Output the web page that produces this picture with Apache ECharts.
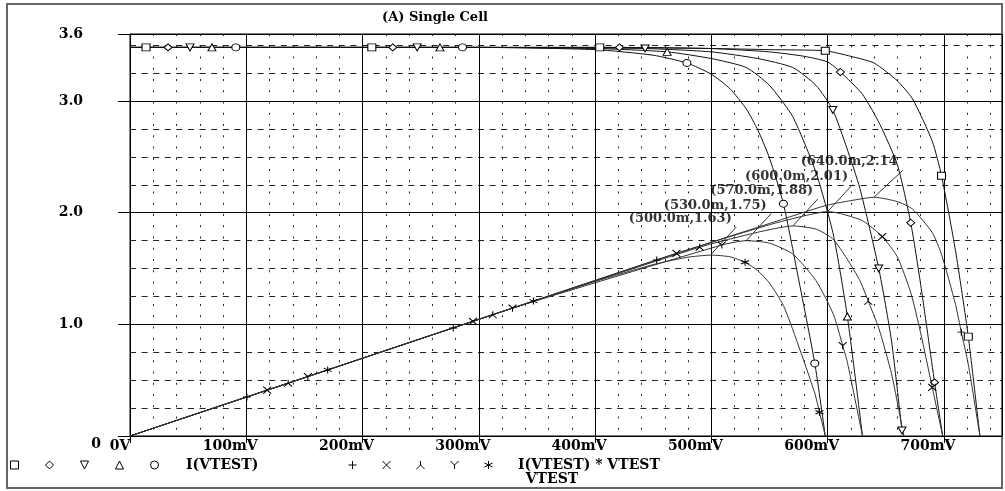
<!DOCTYPE html>
<html>
<head>
<meta charset="utf-8">
<script src="https://cdn.jsdelivr.net/npm/echarts@6/dist/echarts.min.js"></script>
<style>
  html, body { margin: 0; padding: 0; background: #fff; }
  #main { width: 1005px; height: 491px; }
</style>
</head>
<body>
<div id="main"></div>
<script>
var chart = echarts.init(document.getElementById('main'));

// I(VTEST) curves, voltages in mV, current in A
var vA = [0, 13.8, 100, 208, 300, 404, 500, 550, 598, 620, 640, 660, 673, 690, 698, 710, 721, 731];
var iA = [3.48, 3.48, 3.48, 3.48, 3.48, 3.48, 3.47, 3.46, 3.45, 3.40, 3.34, 3.18, 3.02, 2.64, 2.33, 1.66, 0.89, 0];
var vB = [0, 32.7, 100, 226, 300, 421, 500, 550, 580, 600, 611, 630, 645, 660, 671.5, 680, 692, 699];
var iB = [3.48, 3.48, 3.48, 3.48, 3.48, 3.48, 3.47, 3.44, 3.40, 3.35, 3.26, 3.06, 2.79, 2.43, 1.91, 1.36, 0.48, 0];
var vC = [0, 51.6, 100, 247, 300, 443, 500, 540, 570, 590, 604.5, 616.5, 627.7, 644, 655, 664, 665.5];
var iC = [3.48, 3.48, 3.48, 3.48, 3.48, 3.47, 3.44, 3.38, 3.30, 3.14, 2.92, 2.58, 2.22, 1.50, 0.85, 0.05, 0];
var vD = [0, 70.5, 100, 266.6, 300, 400, 462, 500, 530, 550, 570, 590, 605, 617, 630];
var iD = [3.48, 3.48, 3.48, 3.48, 3.48, 3.47, 3.44, 3.38, 3.30, 3.14, 2.86, 2.36, 1.80, 1.07, 0];
var vE = [0, 91, 100, 286, 300, 400, 450, 479, 500, 516, 530, 540, 550, 562, 574, 589, 598];
var iE = [3.48, 3.48, 3.48, 3.48, 3.48, 3.46, 3.41, 3.34, 3.24, 3.11, 2.93, 2.74, 2.49, 2.08, 1.46, 0.65, 0];

// I(VTEST) * VTEST curves
var pvA = [0, 100.6, 278, 453, 550, 598, 620, 640, 660, 673, 690, 698, 710, 715, 721, 731];
var ppA = [0, 0.350, 0.967, 1.576, 1.903, 2.063, 2.108, 2.138, 2.099, 2.032, 1.822, 1.626, 1.179, 0.930, 0.642, 0];
var pvB = [0, 118, 295, 470, 550, 580, 600, 611, 630, 647, 660, 671.5, 680, 690, 699];
var ppB = [0, 0.411, 1.027, 1.636, 1.892, 1.972, 2.010, 1.992, 1.928, 1.786, 1.604, 1.284, 0.925, 0.435, 0];
var pvC = [0, 136, 312, 490, 540, 570, 590, 604.5, 616.5, 627.7, 635, 644, 655, 665.5];
var ppC = [0, 0.473, 1.086, 1.691, 1.825, 1.881, 1.853, 1.765, 1.590, 1.393, 1.207, 0.966, 0.557, 0];
var pvD = [0, 153, 329, 509, 530, 550, 570, 590, 605, 613, 617, 630];
var ppD = [0, 0.532, 1.145, 1.710, 1.749, 1.727, 1.630, 1.392, 1.089, 0.809, 0.660, 0];
var pvE = [0, 170, 347, 400, 450, 479, 500, 516, 529, 540, 550, 562, 574, 589, 593, 598];
var ppE = [0, 0.592, 1.208, 1.384, 1.535, 1.600, 1.620, 1.605, 1.556, 1.480, 1.370, 1.169, 0.838, 0.383, 0.213, 0];

// where the trace markers sit (mV)
var markI = [
    [13.8, 208, 404, 598, 698, 721],
    [32.7, 226, 421, 611, 671.5, 692],
    [51.6, 247, 443, 604.5, 644, 664],
    [70.5, 266.6, 462, 617],
    [91, 286, 479, 562, 589]
];
var markP = [
    [100.6, 278, 453, 715],
    [118, 295, 470, 647, 690],
    [136, 312, 490, 635],
    [153, 329, 509, 613],
    [170, 347, 529, 593]
];

// peak labels
var peakV = [500, 530, 570, 600, 640];
var peakP = [1.63, 1.75, 1.88, 2.01, 2.14];
var peakText = ['(500.0m,1.63)', '(530.0m,1.75)', '(570.0m,1.88)', '(600.0m,2.01)', '(640.0m,2.14'];

var xTicks = [0, 100, 200, 300, 400, 500, 600, 700];

var FONT = 'DejaVu Serif';

var iSym = [
    'path://M0,0L10,0L10,10L0,10Z',
    'path://M5,0L10,5L5,10L0,5Z',
    'path://M0,0L10,0L5,10Z',
    'path://M5,0L10,10L0,10Z',
    'circle'
];
var pSym = [
    'path://M0,5L10,5M5,0L5,10',
    'path://M0,0L10,10M10,0L0,10',
    'path://M5,0L5,5M5,5L0,10M5,5L10,10',
    'path://M0,0L5,5M10,0L5,5M5,5L5,10',
    'path://M5,0L5,10M0,2.5L10,7.5M10,2.5L0,7.5'
];

var iV = [vA, vB, vC, vD, vE], iI = [iA, iB, iC, iD, iE];
var pV = [pvA, pvB, pvC, pvD, pvE], pP = [ppA, ppB, ppC, ppD, ppE];
var iNames = ['Ia', 'Ib', 'Ic', 'Id', 'Ie'];
var pNames = ['Pa', 'Pb', 'Pc', 'Pd', 'Pe'];

var markStyle = { color: '#fff', borderColor: '#000', borderWidth: 1 };

function makeLine(name, xs, ys, marks, sym, color) {
    return {
        name: name,
        type: 'line',
        xAxisIndex: 0,
        yAxisIndex: 0,
        data: xs.map(function (x, k) { return [x, ys[k]]; }),
        symbol: function (val) { return marks.indexOf(val[0]) >= 0 ? sym : 'none'; },
        symbolSize: [8, 7],
        showSymbol: true,
        showAllSymbol: true,
        smooth: 0.2,
        lineStyle: { color: color, width: 1 },
        itemStyle: markStyle,
        emphasis: { disabled: true },
        z: 3
    };
}

var series = [];
for (var k = 0; k < 5; k++) {
    series.push(makeLine(iNames[k], iV[k], iI[k], markI[k], iSym[k], '#111'));
}
for (var k = 0; k < 5; k++) {
    series.push(makeLine(pNames[k], pV[k], pP[k], markP[k], pSym[k], '#333'));
}
series.push({
    id: 'peaks',
    type: 'scatter',
    symbolSize: 0,
    data: peakV.map(function (v, k) {
        // the last label has no closing bracket, so it sits a little further right
        return { value: [v, peakP[k]], label: { offset: k === 4 ? [-25, -35] : [-31, -35] } };
    }),
    label: {
        show: true,
        position: 'inside',
        formatter: function (p) { return peakText[p.dataIndex]; },
        fontFamily: FONT,
        fontWeight: 'bold',
        fontSize: 13,
        color: '#000'
    },
    z: 5
});

var labelFont = { fontFamily: FONT, fontWeight: 'bold', fontSize: 14, color: '#000' };

var option = {
    animation: false,
    title: {
        text: '(A) Single Cell',
        left: 430,
        top: 6,
        textAlign: 'center',
        textStyle: { fontFamily: FONT, fontWeight: 'bold', fontSize: 13, color: '#000' }
    },
    grid: { left: 130, right: 3, top: 34, bottom: 54, show: true, borderColor: '#000', borderWidth: 1 },
    legend: [{
        left: 10, top: 458, padding: 0,
        itemWidth: 9, itemHeight: 8, itemGap: 26,
        selectedMode: false,
        data: iNames.map(function (n, k) { return { name: n, icon: iSym[k], itemStyle: markStyle }; }),
        formatter: function (n) { return n === 'Ie' ? '{t|I(VTEST)}' : ''; },
        textStyle: { rich: { t: { fontFamily: FONT, fontWeight: 'bold', fontSize: 14, color: '#000', padding: [0, 0, 0, 22] } } }
    }, {
        left: 348, top: 458, padding: 0,
        itemWidth: 9, itemHeight: 8, itemGap: 25,
        selectedMode: false,
        data: pNames.map(function (n, k) { return { name: n, icon: pSym[k], itemStyle: markStyle }; }),
        formatter: function (n) { return n === 'Pe' ? '{t|I(VTEST) * VTEST}' : ''; },
        textStyle: { rich: { t: { fontFamily: FONT, fontWeight: 'bold', fontSize: 14, color: '#000', padding: [0, 0, 0, 20] } } }
    }],
    xAxis: [{
        type: 'value', min: 0, max: 750, interval: 100, z: 2,
        name: 'VTEST', nameLocation: 'middle', nameGap: 36,
        nameTextStyle: { fontFamily: FONT, fontWeight: 'bold', fontSize: 14, color: '#000', padding: [0, 28, 0, 0] },
        axisLine: { show: true, lineStyle: { color: '#000', width: 1 } },
        axisTick: { show: true, length: 7, lineStyle: { color: '#000' } },
        axisLabel: {
            margin: 3, showMaxLabel: false,
            formatter: function (v) {
                if (xTicks.indexOf(v) < 0) return '';
                return v === 0 ? '{z|0V}' : '{x|' + v + 'mV}';
            },
            rich: {
                z: Object.assign({ padding: [0, 20, 0, 0] }, labelFont),
                x: Object.assign({ padding: [0, 32, 0, 0] }, labelFont)
            }
        },
        splitLine: { show: true, lineStyle: { color: '#000', width: 1 } }
    }, {
        type: 'value', min: 0, max: 750, interval: 20, z: 1,
        axisLine: { show: false }, axisTick: { show: false }, axisLabel: { show: false },
        splitLine: { show: true, lineStyle: { color: '#222', width: 1, type: [2, 9.25] } }
    }],
    yAxis: [{
        type: 'value', min: 0, max: 3.6, interval: 1, z: 2,
        axisLine: { show: true, lineStyle: { color: '#000', width: 1 } },
        axisTick: { show: true, length: 12, lineStyle: { color: '#000' } },
        axisLabel: {
            margin: 29,
            align: 'right',
            formatter: function (v) {
                return v === 0 ? '{z|0}' : '{n|' + v.toFixed(1) + '}';
            },
            rich: {
                z: Object.assign({ padding: [16, 0, 0, 0] }, labelFont),
                n: Object.assign({ padding: [0, 18, 0, 0] }, labelFont)
            }
        },
        splitLine: { show: true, lineStyle: { color: '#000', width: 1 } }
    }, {
        type: 'value', min: 0, max: 3.6, interval: 0.25, z: 1,
        axisLine: { show: false }, axisTick: { show: false }, axisLabel: { show: false },
        splitLine: { show: true, lineStyle: { color: '#222', width: 1, type: [6, 5.6] } }
    }],
    graphic: [{
        type: 'rect', silent: true, z: 0,
        shape: { x: 7, y: 4, width: 995, height: 484 },
        style: { fill: 'none', stroke: '#666', lineWidth: 2 }
    }],
    series: series
};

chart.setOption(option);

// leader lines from each peak up to the end of its label
var leaders = peakV.map(function (v, k) {
    var p = chart.convertToPixel({ gridIndex: 0 }, [v, peakP[k]]);
    var dx = k === 4 ? 29 : 25;
    return [{ x: p[0], y: p[1] }, { x: p[0] + dx, y: p[1] - 27 }];
});
chart.setOption({
    series: [{
        id: 'peaks',
        markLine: {
            silent: true,
            symbol: 'none',
            label: { show: false },
            lineStyle: { color: '#333', width: 1, type: 'solid' },
            data: leaders
        }
    }]
});

window.onresize = chart.resize;
</script>
</body>
</html>
